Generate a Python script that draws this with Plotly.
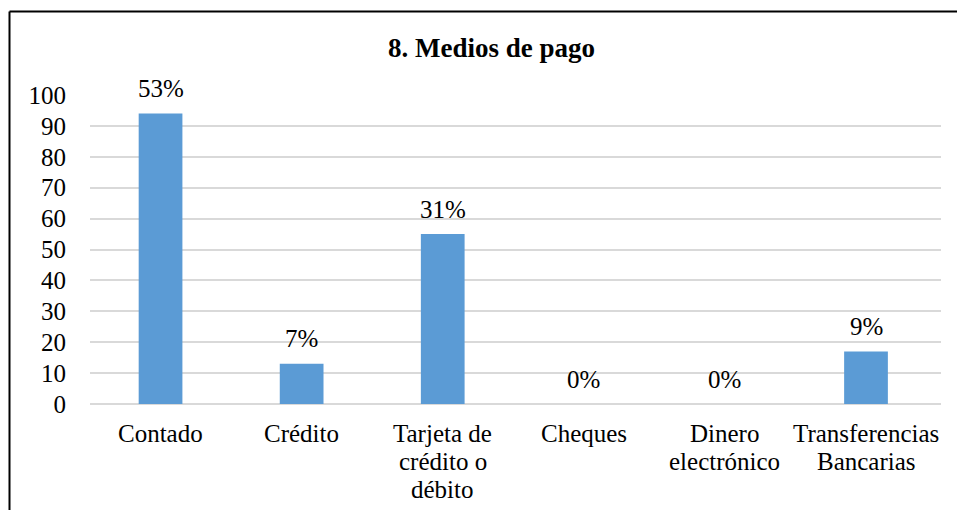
import plotly.graph_objects as go

categories = ["Contado", "Crédito", "Tarjeta de<br>crédito o<br>débito", "Cheques", "Dinero<br>electrónico", "Transferencias<br>Bancarias"]
values = [94, 13, 55, 0, 0, 17]
pct_labels = ["53%", "7%", "31%", "0%", "0%", "9%"]
y_ticks = [0, 10, 20, 30, 40, 50, 60, 70, 80, 90, 100]

W, H = 957, 510
L, R, T, B = 90, 16, 95, 106
pw, ph = W - L - R, H - T - B

font = "Liberation Serif, Times New Roman, serif"
FS = 25

fig = go.Figure()
fig.add_trace(go.Bar(x=categories, y=values, marker_color="#5B9BD5", width=0.31,
                     marker_line_width=0))

for c, v, t in zip(categories, values, pct_labels):
    fig.add_annotation(x=c, y=v, text=t, showarrow=False, yanchor="middle", yshift=25,
                       font=dict(family=font, size=FS, color="black"))

# category labels, one annotation per line for tighter line spacing
for c in categories:
    for i, line in enumerate(c.split("<br>")):
        fig.add_annotation(x=c, y=0, text=line, showarrow=False, yanchor="middle",
                           yshift=-(29 + 28 * i),
                           font=dict(family=font, size=FS, color="black"))

def px2x(px):
    return (px - L) / pw

def py2y(py):
    return (H - B - py) / ph

fig.add_shape(type="line", xref="paper", yref="paper", x0=px2x(9.5), x1=px2x(9.5),
              y0=py2y(11.5), y1=py2y(515), line=dict(color="black", width=2))
fig.add_shape(type="line", xref="paper", yref="paper", x0=px2x(9.5), x1=px2x(965),
              y0=py2y(11.5), y1=py2y(11.5), line=dict(color="black", width=2))

fig.add_annotation(xref="paper", yref="paper", x=px2x(491), y=py2y(48), text="<b>8. Medios de pago</b>",
                   showarrow=False, xanchor="center", yanchor="middle",
                   font=dict(family=font, size=27, color="black"))

fig.update_layout(
    width=W, height=H, margin=dict(l=L, r=R, t=T, b=B, autoexpand=False),
    paper_bgcolor="white", plot_bgcolor="white", showlegend=False,
    font=dict(family=font, size=FS, color="black"),
    bargap=0.69,
)
fig.update_yaxes(range=[0, 100], tickvals=y_ticks, showgrid=True, gridcolor="#D9D9D9", gridwidth=1.5,
                 zeroline=True, zerolinecolor="#D9D9D9", zerolinewidth=1.5, showline=False,
                 ticklabelstandoff=23, automargin=False,
                 tickfont=dict(family=font, size=FS, color="black"))
fig.update_xaxes(showgrid=False, showline=False, showticklabels=False, automargin=False)

fig.write_html("out.html")
